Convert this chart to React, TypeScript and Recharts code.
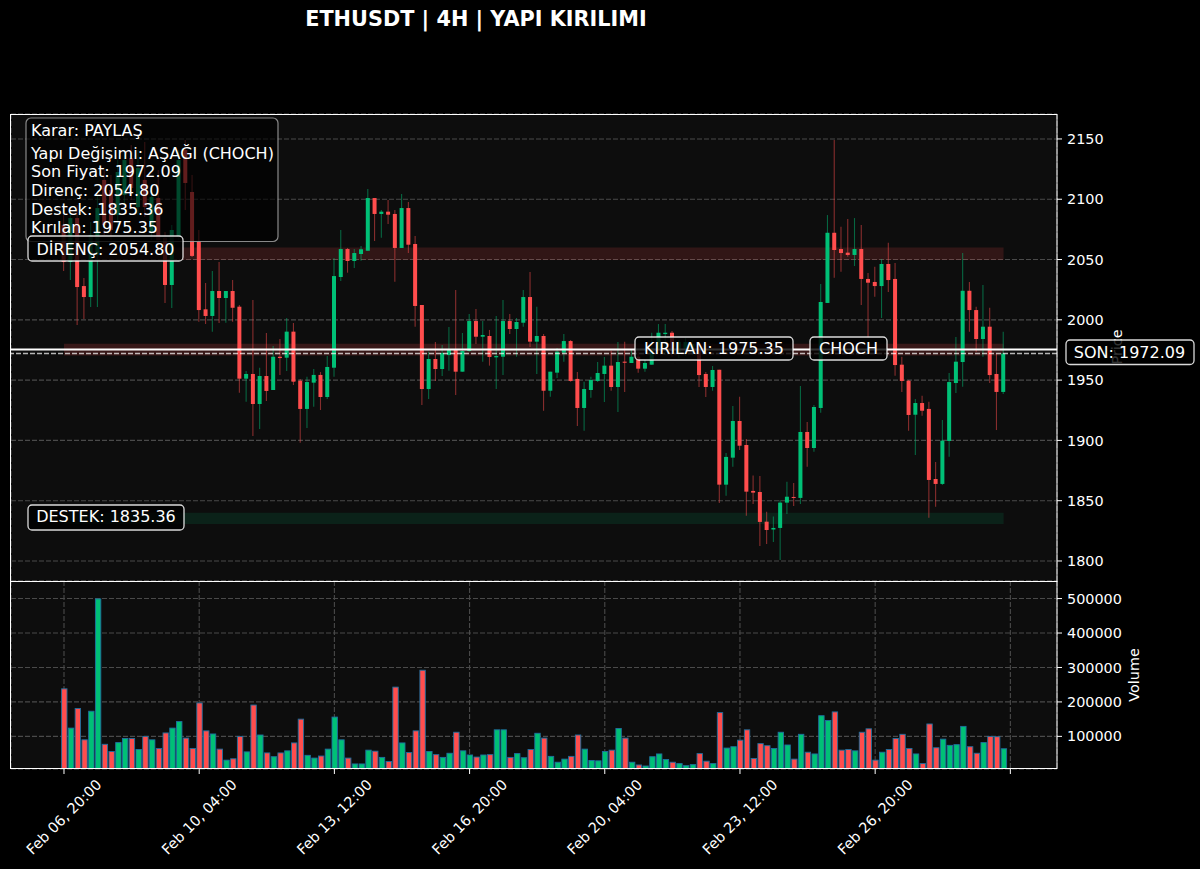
import React from "react";
import { ComposedChart, Bar, XAxis, YAxis, CartesianGrid, ReferenceArea, ReferenceLine } from "recharts";

const opens = [2078.6,2048.0,2084.4,2028.0,2018.9,2053.8,2116.0,2107.7,2086.9,2103.5,2134.2,2093.5,2116.0,2072.8,2101.0,2067.9,2028.9,2068.7,2140.8,2106.0,
2064.8,2008.7,2003.2,2023.9,2018.1,2023.9,2010.9,1951.2,1955.1,1930.2,1953.4,1941.8,1969.4,1968.6,1990.2,1949.5,1926.1,1947.9,1954.3,1936.0,
1960.3,2035.5,2058.7,2048.8,2054.6,2057.3,2101.0,2087.8,2089.7,2087.8,2059.6,2092.7,2062.9,2012.3,1942.6,1967.5,1959.2,1970.8,1975.8,1957.0,
1974.2,1999.0,1986.0,1986.6,1968.9,1969.4,1999.0,1992.4,1997.6,2018.9,1981.9,1986.6,1941.2,1956.2,1972.8,1982.4,1951.0,1926.9,1941.8,1949.3,
1955.1,1962.0,1944.3,1965.3,1964.2,1969.4,1959.5,1962.8,1975.0,1988.2,1989.3,1973.3,1975.0,1975.0,1975.0,1955.1,1944.3,1958.6,1863.3,1885.7,
1916.1,1896.2,1858.1,1857.2,1832.6,1826.1,1827.4,1848.4,1853.1,1852.3,1907.0,1893.7,1926.9,2014.0,2072.2,2058.7,2055.7,2053.8,2058.7,2033.9,
2031.4,2028.0,2046.3,2033.9,1962.8,1949.5,1921.3,1931.0,1926.1,1868.0,1863.9,1899.5,1947.6,1965.0,2024.1,2008.1,1984.1,1994.3,1955.1,1940.2];
const highs = [2086.9,2089.4,2095.2,2034.7,2081.1,2103.5,2124.2,2120.1,2132.5,2140.8,2145.0,2140.8,2147.5,2111.8,2124.2,2072.8,2078.6,2140.8,2149.1,2120.1,
2074.5,2030.5,2040.5,2048.0,2023.9,2033.0,2012.3,1957.6,2016.4,1960.3,1989.1,1978.3,1984.1,2001.5,1997.4,1951.0,1952.8,1959.2,1956.7,1970.0,
2051.3,2074.5,2059.6,2058.7,2061.2,2108.5,2101.0,2091.1,2099.4,2091.1,2104.3,2097.7,2069.5,2012.3,1973.6,1981.6,1979.1,1994.0,2024.7,1989.1,
2004.8,2009.0,1999.0,1991.6,2003.2,2016.4,2004.8,2001.5,2024.7,2039.7,2010.9,1988.2,1957.0,1976.6,1988.2,1983.3,1956.7,1948.7,1952.8,1965.0,
1969.2,1974.4,1981.6,1981.9,1975.0,1973.6,1966.7,1989.3,1996.5,1996.5,1990.7,1983.3,1984.9,1983.3,1979.1,1956.7,1961.7,1958.6,1889.6,1928.5,
1936.3,1901.2,1870.8,1870.5,1840.9,1836.8,1850.6,1865.8,1864.7,1945.1,1915.3,1929.4,2029.7,2086.9,2149.1,2077.2,2083.6,2084.4,2078.6,2038.8,
2044.1,2050.4,2064.0,2047.1,1969.4,1950.1,1934.3,1937.1,1932.1,1882.1,1916.9,1955.9,1985.8,2055.4,2031.4,2010.9,2028.9,2010.0,1971.7,1990.2];
const lows = [2040.5,2033.0,1995.7,2000.7,2010.6,2010.6,2070.3,2066.2,2078.6,2095.2,2099.4,2086.9,2085.3,2066.2,2057.9,2014.0,2009.8,2066.2,2091.1,2052.1,
1998.4,1996.5,1990.2,1997.4,1997.6,1998.4,1939.6,1932.1,1903.7,1909.5,1932.7,1941.8,1954.2,1957.6,1946.0,1898.1,1910.3,1928.0,1925.2,1934.3,
1952.8,2032.2,2039.1,2043.0,2049.0,2057.3,2065.4,2068.1,2079.5,2031.6,2059.6,2055.4,1994.3,1929.4,1934.3,1949.3,1953.4,1957.8,1937.7,1957.0,
1973.6,1980.0,1965.3,1962.0,1942.6,1954.2,1988.3,1969.4,1994.3,1977.5,1955.1,1924.6,1936.3,1951.8,1965.3,1948.7,1912.0,1908.1,1935.4,1948.4,
1931.9,1941.2,1923.6,1940.2,1964.2,1956.2,1957.0,1962.8,1975.0,1970.8,1969.4,1968.3,1970.0,1970.8,1944.3,1936.0,1941.2,1848.1,1854.2,1878.2,
1892.0,1837.6,1847.3,1812.5,1814.1,1815.8,1800.8,1839.0,1845.6,1847.3,1878.2,1890.6,1923.0,2014.0,2034.9,2039.9,2052.3,2044.6,2012.3,1984.9,
2019.2,2001.5,2023.1,1953.7,1940.2,1908.1,1887.9,1920.5,1835.9,1845.0,1863.0,1886.5,1939.3,1944.5,1990.2,1973.6,1969.4,1947.6,1908.6,1938.5];
const closes = [2048.0,2084.4,2027.2,2018.9,2070.3,2092.7,2078.6,2074.5,2122.6,2132.5,2109.3,2125.9,2093.5,2101.8,2066.2,2028.9,2074.5,2132.5,2113.5,2053.0,
2008.1,2003.2,2023.9,2018.1,2023.9,2010.0,1951.2,1955.1,1930.2,1953.4,1941.0,1969.4,1968.3,1990.2,1948.7,1926.1,1948.4,1954.3,1936.0,1960.9,
2036.3,2058.7,2048.8,2055.4,2058.5,2101.0,2087.8,2089.7,2087.2,2059.6,2092.7,2062.3,2011.5,1942.6,1967.5,1959.2,1972.5,1975.8,1957.0,1974.2,
1999.0,1986.0,1987.4,1969.2,1970.0,1999.0,1992.4,1998.2,2018.9,1981.9,1986.6,1941.2,1957.0,1973.6,1982.4,1949.3,1926.9,1942.6,1950.1,1955.9,
1962.0,1944.3,1965.0,1964.4,1969.4,1959.5,1964.2,1976.6,1989.3,1989.3,1974.2,1981.6,1981.6,1980.0,1954.2,1944.3,1958.4,1863.3,1886.3,1916.1,
1895.6,1857.5,1856.7,1832.4,1825.7,1827.4,1848.4,1853.3,1852.3,1907.0,1893.7,1927.7,2014.8,2072.2,2057.9,2055.4,2053.8,2058.7,2033.9,2030.8,
2028.0,2046.3,2033.0,1962.5,1949.3,1921.1,1931.0,1924.6,1867.2,1863.9,1899.8,1948.4,1965.3,2024.1,2008.1,1984.1,1994.3,1954.2,1940.2,1972.09];
const volumes = [238,124,181,90,173,499,77,56,82,94,94,62,100,90,65,110,124,143,95,65,
197,116,107,63,31,35,100,55,191,104,52,41,52,58,81,150,45,37,43,63,
156,90,37,20,20,60,57,39,27,243,81,53,116,292,56,47,39,51,112,58,
46,40,46,47,119,119,39,50,38,62,109,95,42,25,34,42,104,63,30,29,
56,60,123,95,25,17,14,41,49,33,25,21,15,18,50,28,21,169,66,70,
89,119,36,79,73,65,112,75,34,106,54,49,160,146,171,60,62,58,112,122,
31,54,62,94,106,65,49,21,136,67,92,74,76,129,70,51,82,100,99,64].map((v) => v * 1000);

const xTicks = [0, 20, 40, 60, 80, 100, 120, 140];
const xTickLabels = ["Feb 06, 20:00", "Feb 10, 04:00", "Feb 13, 12:00", "Feb 16, 20:00", "Feb 20, 04:00", "Feb 23, 12:00", "Feb 26, 20:00", ""];
const priceTicks = [1800, 1850, 1900, 1950, 2000, 2050, 2100, 2150];
const volumeTicks = [100000, 200000, 300000, 400000, 500000];
const infoLines = ["Karar: PAYLAŞ", "Yapı Değişimi: AŞAĞI (CHOCH)", "Son Fiyat: 1972.09", "Direnç: 2054.80", "Destek: 1835.36", "Kırılan: 1975.35"];
const RESISTANCE = 2054.8;
const SUPPORT = 1835.36;
const BROKEN = 1975.35;
const LAST = 1972.09;

const UP = "#00c076";
const DOWN = "#ff4d4d";
const GRID = "#4a4a4a";
const FONT = "'DejaVu Sans'";
const TICK_SIZE = 14.4;
const LABEL_SIZE = 16;
const X_DOMAIN: [number, number] = [-7.84, 146.9];

const rows = opens.map((open, i) => ({ i, open, high: highs[i], low: lows[i], close: closes[i], volume: volumes[i] }));

function Candle(props: any) {
  const { x, y, width, height, payload } = props;
  const { open, close, high, low } = payload;
  const k = height / (high - low);
  const cx = x + width / 2;
  const top = y + (high - Math.max(open, close)) * k;
  const bottom = y + (high - Math.min(open, close)) * k;
  const color = close >= open ? UP : DOWN;
  return (
    <g>
      <line x1={cx} x2={cx} y1={y} y2={y + height} stroke={color} strokeOpacity={0.5} strokeWidth={1.1} />
      <rect x={x} y={top} width={width} height={Math.max(bottom - top, 1)} fill={color} />
    </g>
  );
}

function VolumeBar(props: any) {
  const { x, y, width, height, payload } = props;
  return <rect x={x} y={y} width={width} height={height} fill={payload.close >= payload.open ? UP : DOWN} stroke="#1f6f9f" strokeWidth={0.9} />;
}

function XTick(props: any) {
  const { x, y, payload } = props;
  const label = xTickLabels[xTicks.indexOf(payload.value)];
  const cy = y + 41;
  return (
    <text x={x} y={cy} fill="#fff" fontSize={TICK_SIZE} fontFamily={FONT} textAnchor="middle" dominantBaseline="central" transform={`rotate(-45 ${x} ${cy})`}>
      {label}
    </text>
  );
}

const W = 1200;
const H = 869;
const tickStyle = { fill: "#fff", fontSize: TICK_SIZE, fontFamily: FONT };
const abs: React.CSSProperties = { position: "absolute", left: 0, top: 0 };

function Tag({ x, y, w, h, tx, ty, text }: { x: number; y: number; w: number; h: number; tx: number; ty: number; text: string }) {
  return (
    <g>
      <rect x={x} y={y} width={w} height={h} rx={4} fill="#000" fillOpacity={0.8} stroke="#fff" strokeOpacity={0.85} strokeWidth={1.3} />
      <text x={tx} y={ty} fill="#fff" fontSize={LABEL_SIZE} fontFamily={FONT} textAnchor="middle">{text}</text>
    </g>
  );
}

export default function App() {
  return (
    <div style={{ ...abs, width: W, height: H, background: "#000", overflow: "hidden" }}>
      <div style={abs}>
        <ComposedChart width={W} height={H} data={rows} margin={{ top: 114, right: 0, bottom: 288, left: 11 }}>
          <CartesianGrid stroke={GRID} strokeDasharray="5 2" strokeWidth={1.1} fill="#0d0d0d" />
          <XAxis dataKey="i" type="number" domain={X_DOMAIN} ticks={xTicks} allowDataOverflow tick={false} axisLine={false} tickLine={false} height={0} />
          <YAxis orientation="right" width={143} domain={[1783.4, 2170.7]} ticks={priceTicks} allowDataOverflow interval={0}
            tick={tickStyle} tickSize={5} tickMargin={5} stroke="#fff" axisLine={false} />
          <Bar dataKey={(d: any) => [d.low, d.high]} barSize={4} shape={Candle} isAnimationActive={false} />
          <ReferenceArea x1={0} x2={139} y1={RESISTANCE - 5.1} y2={RESISTANCE + 5.1} fill={DOWN} fillOpacity={0.15} stroke="none" />
          <ReferenceArea x1={0} x2={139} y1={BROKEN - 4.9} y2={BROKEN + 4.9} fill={DOWN} fillOpacity={0.18} stroke="none" />
          <ReferenceArea x1={0} x2={139} y1={SUPPORT - 4.6} y2={SUPPORT + 4.6} fill={UP} fillOpacity={0.12} stroke="none" />
          <ReferenceLine y={BROKEN} stroke="#fff" strokeWidth={2} />
          <ReferenceLine y={LAST} stroke="#fff" strokeOpacity={0.7} strokeWidth={1.5} strokeDasharray="5 2" />
        </ComposedChart>
      </div>
      <div style={abs}>
        <ComposedChart width={W} height={H} data={rows} margin={{ top: 581, right: 0, bottom: 0, left: 11 }}>
          <CartesianGrid stroke={GRID} strokeDasharray="5 2" strokeWidth={1.1} fill="#0d0d0d" />
          <XAxis dataKey="i" type="number" domain={X_DOMAIN} ticks={xTicks} allowDataOverflow height={100} interval={0}
            tick={<XTick />} tickSize={5} stroke="#fff" axisLine={false} />
          <YAxis orientation="right" width={143} domain={[5300, 551000]} ticks={volumeTicks} allowDataOverflow interval={0}
            tick={tickStyle} tickSize={5} tickMargin={5} stroke="#fff" axisLine={false} />
          <Bar dataKey="volume" barSize={5.4} shape={VolumeBar} isAnimationActive={false} />
        </ComposedChart>
      </div>
      <svg width={W} height={H} style={{ ...abs, pointerEvents: "none" }}>
        <text x={476} y={26} fill="#fff" fontSize={20.8} fontWeight="bold" fontFamily={FONT} textAnchor="middle">ETHUSDT | 4H | YAPI KIRILIMI</text>
        <rect x={10.5} y={114.5} width={1046.5} height={467} fill="none" stroke="#fff" strokeWidth={1} />
        <rect x={10.5} y={581.5} width={1046.5} height={187} fill="none" stroke="#fff" strokeWidth={1} />
        <text transform="translate(1122 347) rotate(-90)" fill="#fff" fontSize={TICK_SIZE} fontFamily={FONT} textAnchor="middle">Price</text>
        <text transform="translate(1139 675) rotate(-90)" fill="#fff" fontSize={TICK_SIZE} fontFamily={FONT} textAnchor="middle">Volume</text>
        <rect x={26} y={118} width={252} height={123.5} rx={5} fill="#000" fillOpacity={0.62} stroke="#aaa" strokeOpacity={0.8} strokeWidth={1.2} />
        {infoLines.map((line, i) => (
          <text key={line} x={31} y={[136, 159, 177, 196, 215, 233][i]} fill="#fff" fontSize={LABEL_SIZE} fontFamily={FONT}>{line}</text>
        ))}
        <Tag x={28} y={236} w={155} h={25} tx={105.5} ty={254.5} text={`DİRENÇ: ${RESISTANCE.toFixed(2)}`} />
        <Tag x={28} y={505} w={156} h={25} tx={106} ty={522} text={`DESTEK: ${SUPPORT.toFixed(2)}`} />
        <Tag x={635} y={337} w={158} h={23} tx={714} ty={353.5} text={`KIRILAN: ${BROKEN.toFixed(2)}`} />
        <Tag x={810} y={337} w={77} h={23} tx={848.5} ty={353.5} text="CHOCH" />
        <Tag x={1066} y={340} w={128} h={24.5} tx={1129.5} ty={357.5} text={`SON: ${LAST.toFixed(2)}`} />
      </svg>
    </div>
  );
}
